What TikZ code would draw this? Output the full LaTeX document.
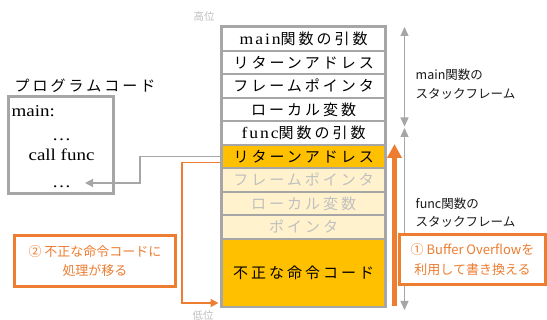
\documentclass[tikz,border=0pt]{standalone}
\usepackage{fontspec}
\setmainfont{Liberation Serif}
\newfontfamily\cent[FakeStretch=1.15]{Liberation Serif}
\newfontfamily\centw[FakeStretch=1.1,LetterSpace=12]{Liberation Serif}
\newfontfamily\jp{Noto Sans CJK JP}
\newfontfamily\jpw[LetterSpace=20]{Noto Sans CJK JP}
\usetikzlibrary{arrows.meta,calc}
\definecolor{gborder}{HTML}{A6A6A6}
\definecolor{oline}{HTML}{ED7D31}
\definecolor{gold}{HTML}{FFC000}
\definecolor{pale}{HTML}{FFF2CC}
\definecolor{paletext}{HTML}{C0C0C0}
\definecolor{lowtext}{HTML}{BFBFBF}
\tikzset{
  cell/.style={rectangle, minimum width=161pt, minimum height=21.5pt, inner sep=0pt,
    anchor=north west, font=\fontsize{15}{18}\selectfont},
  whitecell/.style={cell, fill=white, text=black},
  goldcell/.style={cell, fill=gold, text=black},
  palecell/.style={cell, fill=pale, text=paletext},
  garrow/.style={draw=gborder, line width=1.3pt},
  gconn/.style={draw=gborder, line width=1.3pt, -{Triangle[length=8pt,width=8pt]}},
  oconn/.style={draw=oline, line width=1.5pt, -{Triangle[length=8pt,width=8pt]}},
  obox/.style={draw=oline, line width=3pt, fill=white, text=oline, align=center,
    inner sep=0pt, font=\jp\fontsize{13}{19.5}\selectfont},
  framelabel/.style={anchor=west, align=left, inner sep=0pt, text=black!90,
    font=\jp\fontsize{12.5}{18.5}\selectfont},
  levellabel/.style={text=lowtext, inner sep=0pt, font=\jp\fontsize{10.5}{12}\selectfont},
  codetext/.style={anchor=base, inner sep=0pt, font=\cent\fontsize{16.5}{20}\selectfont}
}
\begin{document}
\begin{tikzpicture}[x=1pt,y=-1pt]
\useasboundingbox (0,0) rectangle (547,320);
% stack
\fill[gborder] (220,25.5) rectangle (387,308.5);
\node[whitecell] (c1) at (223,28) {{\centw\fontsize{16}{18}\selectfont main}{\jpw 関数の引数}};
\node[whitecell] (c2) at (223,51.5) {\jpw リターンアドレス};
\node[whitecell] (c3) at (223,75) {\jpw フレームポインタ};
\node[whitecell] (c4) at (223,98.5) {\jpw ローカル変数};
\node[whitecell] (c5) at (223,122) {{\centw\fontsize{16}{18}\selectfont func}{\jpw 関数の引数}};
\node[goldcell] (c6) at (223,145.5) {\jpw リターンアドレス};
\node[palecell] (c7) at (223,169) {\jpw フレームポインタ};
\node[palecell] (c8) at (223,192.5) {\jpw ローカル変数};
\node[palecell] (c9) at (223,216) {\jpw ポインタ};
\node[goldcell, minimum height=66.5pt] (c10) at (223,239.5) {\jpw 不正な命令コード};
% level labels
\node[levellabel] (high) at (204,17) {高位};
\node[levellabel] (low) at (203,316) {低位};
% program code
\node[inner sep=0pt, font=\jpw\fontsize{15}{18}\selectfont] (ptitle) at (85,86) {プログラムコード};
\node[draw=gborder, line width=2.7pt, minimum width=104.6pt, minimum height=97pt, inner sep=0pt] (prog) at (61,144.8) {};
\node[codetext, anchor=base west] (pmain) at (11.5,116.5) {main:};
\node[codetext] (pdots1) at (61.5,141) {…};
\node[codetext] (pcall) at (61.5,161) {call func};
\node[codetext] (pdots2) at (61.5,188) {…};
% connectors
\coordinate (retpt) at (85,183);
\coordinate (otip) at (218.5,303);
\draw[gconn] ($(c6.west)+(-3,0)$) -- ++(-80,0) |- (retpt);
\draw[oconn] ($(c6.west)+(-3,6)$) -- ++(-38,0) |- (otip);
% right side frame arrows
\coordinate (mtop) at (404.5,27);
\coordinate (mbot) at (404.5,126.5);
\coordinate (ftop) at (404.5,128);
\coordinate (fbot) at (404.5,310);
\draw[garrow, {Triangle[length=9pt,width=8pt]}-{Triangle[length=9pt,width=8pt]}] (mtop) -- (mbot);
\draw[garrow, {Triangle[length=9pt,width=8pt]}-{Triangle[length=9pt,width=8pt]}] (ftop) -- (fbot);
\coordinate (obot) at (394.5,306);
\coordinate (otop) at (394.5,144);
\draw[oline, line width=5pt, -{Triangle[length=14pt,width=14pt]}] (obot) -- (otop);
\node[framelabel] (mlabel) at (415.5,84) {main関数の\\スタックフレーム};
\node[framelabel] (flabel) at (415.5,212.5) {func関数の\\スタックフレーム};
% orange note boxes
\node[obox, minimum width=146pt, minimum height=50pt] (note1) at (472.5,259.5) {① Buffer Overflowを\\利用して書き換える};
\node[obox, minimum width=161pt, minimum height=51pt] (note2) at (95,261) {② 不正な命令コードに\\処理が移る};
\end{tikzpicture}
\end{document}
